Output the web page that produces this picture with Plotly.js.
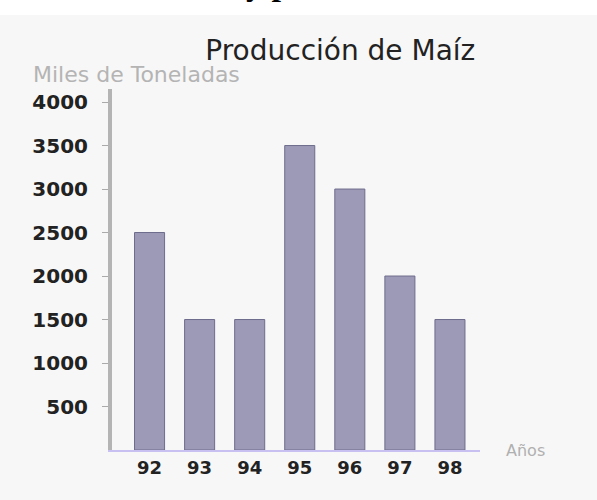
<!DOCTYPE html>
<html>
<head>
<meta charset="utf-8">
<script src="https://cdn.plot.ly/plotly-3.0.1.min.js"></script>
<style>html,body{margin:0;padding:0;background:#f7f7f7;}#chart{width:597px;height:500px;}</style>
</head>
<body>
<div id="chart"></div>
<script>
const years = ['92', '93', '94', '95', '96', '97', '98'];
const production = [2500, 1500, 1500, 3500, 3000, 2000, 1500];
const yTicks = [500, 1000, 1500, 2000, 2500, 3000, 3500, 4000];
const chartTitle = 'Producción de Maíz';
const yTitle = 'Miles de Toneladas';
const xTitle = 'Años';

const trace = {
  type: 'bar',
  x: years,
  y: production,
  width: 0.6,
  marker: {
    color: '#9c9ab6',
    line: {color: '#6e6c8c', width: 1}
  },
  hoverinfo: 'x+y'
};

const layout = {
  width: 597,
  height: 500,
  paper_bgcolor: '#f7f7f7',
  plot_bgcolor: '#f7f7f7',
  margin: {l: 112, r: 117, t: 89, b: 50},
  showlegend: false,
  title: {
    text: chartTitle,
    font: {family: 'DejaVu Sans', size: 28, color: '#222222'},
    x: 0.57, xanchor: 'center',
    y: 0.9, yanchor: 'middle'
  },
  xaxis: {
    type: 'category',
    showline: true, linecolor: '#c8c0f0', linewidth: 2,
    ticks: '', showgrid: false,
    tickfont: {family: 'DejaVu Sans', size: 18, color: '#222222', weight: 'bold'},
    range: [-0.75, 6.6]
  },
  yaxis: {
    range: [0, 4150],
    tickvals: yTicks,
    ticktext: yTicks.map(String),
    showline: true, linecolor: '#b4b4b4', linewidth: 4,
    ticks: 'outside', ticklen: 6, tickcolor: '#aaaaaa',
    ticklabelstandoff: 10,
    showgrid: false, zeroline: false,
    tickfont: {family: 'DejaVu Sans', size: 20, color: '#222222', weight: 'bold'}
  },
  shapes: [
    {type: 'rect', xref: 'paper', yref: 'paper', x0: -0.4, x1: 1.4, y0: 1.205, y1: 1.26,
     fillcolor: '#ffffff', line: {width: 0}, layer: 'below'}
  ],
  annotations: [
    {text: yTitle, xref: 'paper', yref: 'paper', x: -0.22, y: 1.039,
     xanchor: 'left', yanchor: 'middle', showarrow: false,
     font: {family: 'DejaVu Sans', size: 22, color: '#b4b4b4'}},
    {text: xTitle, xref: 'paper', yref: 'paper', x: 1.065, y: 0.0,
     xanchor: 'left', yanchor: 'middle', showarrow: false,
     font: {family: 'DejaVu Sans', size: 16, color: '#b0b0b0'}},
    {text: '<b>y p</b>', xref: 'paper', yref: 'paper', x: 0.36, y: 1.235,
     xanchor: 'left', yanchor: 'bottom', showarrow: false,
     font: {family: 'Liberation Serif', size: 34, color: '#000000'}}
  ]
};

Plotly.newPlot('chart', [trace], layout, {displayModeBar: false, staticPlot: true});
</script>
</body>
</html>
